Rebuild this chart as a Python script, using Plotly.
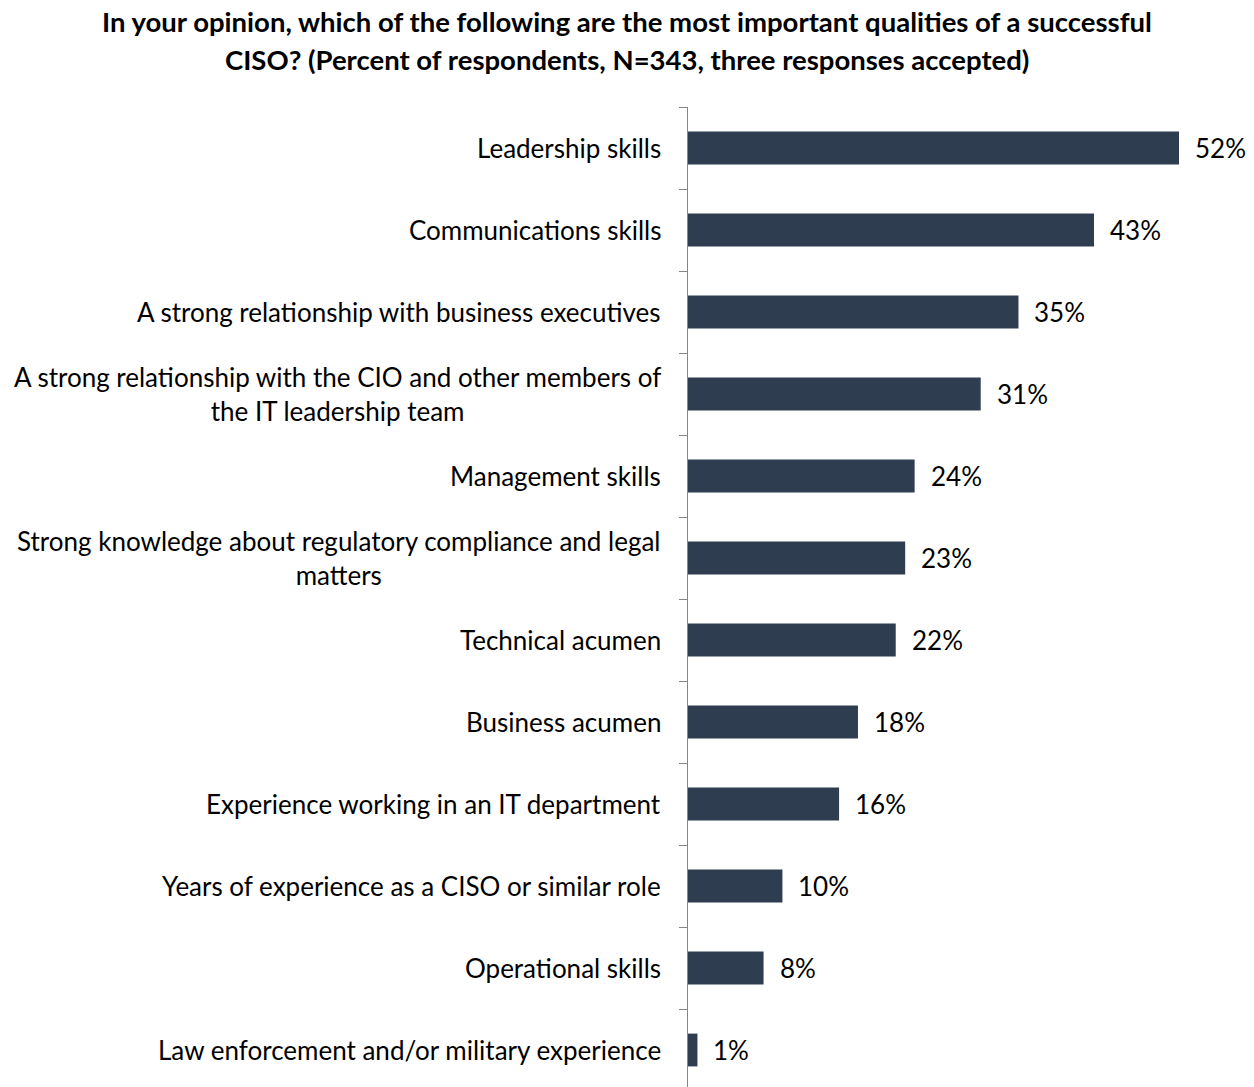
import plotly.graph_objects as go

# Survey results: most important qualities of a successful CISO (percent of respondents)
categories = [
    "Leadership skills",
    "Communications skills",
    "A strong relationship with business executives",
    "A strong relationship with the CIO and other members of<br>the IT leadership team",
    "Management skills",
    "Strong knowledge about regulatory compliance and legal<br>matters",
    "Technical acumen",
    "Business acumen",
    "Experience working in an IT department",
    "Years of experience as a CISO or similar role",
    "Operational skills",
    "Law enforcement and/or military experience",
]
values = [52, 43, 35, 31, 24, 23, 22, 18, 16, 10, 8, 1]
value_labels = [f"{v}%" for v in values]

title_lines = [
    "In your opinion, which of the following are the most important qualities of a successful",
    "CISO? (Percent of respondents, N=343, three responses accepted)",
]

FONT = "Lato, 'Open Sans', sans-serif"
BAR_COLOR = "#2E3E50"
AXIS_COLOR = "#868686"

W, H = 1254, 1087
TOP, LEFT = 107, 688
plot_h = H - TOP
plot_w = W - LEFT
ROW = 82

ids = list(range(len(categories)))

fig = go.Figure(
    go.Bar(
        x=values,
        y=ids,
        orientation="h",
        marker=dict(color=BAR_COLOR, line=dict(width=0)),
        width=0.4,
        hoverinfo="skip",
    )
)

annotations = []
# category labels, centred lines, right edge just left of the axis
for i, cat in zip(ids, categories):
    annotations.append(dict(
        x=0, xref="paper", y=i, yref="y",
        text=cat, showarrow=False,
        xanchor="right", yanchor="middle", align="center",
        xshift=-25,
        font=dict(family=FONT, size=26, color="#000000"),
    ))
# value labels beyond the bar ends
for i, v, lab in zip(ids, values, value_labels):
    annotations.append(dict(
        x=v, xref="x", y=i, yref="y",
        text=lab, showarrow=False,
        xanchor="left", yanchor="middle",
        xshift=14,
        font=dict(family=FONT, size=26, color="#000000"),
    ))
# two-line bold title, centred on the page
title_cx = (W / 2 - LEFT) / plot_w
for pix, line in zip([22, 59], title_lines):
    annotations.append(dict(
        x=title_cx, xref="paper", y=(H - pix) / plot_h, yref="paper",
        text=f"<b>{line}</b>", showarrow=False,
        xanchor="center", yanchor="middle",
        font=dict(family=FONT, size=27.5, color="#000000"),
    ))

fig.update_layout(
    width=W, height=H,
    margin=dict(l=LEFT, r=0, t=TOP, b=0, pad=0),
    paper_bgcolor="white", plot_bgcolor="white",
    showlegend=False,
    annotations=annotations,
    xaxis=dict(
        range=[0, plot_w / (491 / 52)], visible=False, fixedrange=True,
    ),
    yaxis=dict(
        type="category",
        categoryorder="array", categoryarray=ids,
        range=[len(categories) - 0.5 - (TOP + len(categories) * ROW - H) / ROW, -0.5],
        showticklabels=False,
        tickson="boundaries",
        ticks="outside", ticklen=8, tickwidth=1, tickcolor=AXIS_COLOR,
        showline=True, linecolor=AXIS_COLOR, linewidth=1,
        showgrid=False, zeroline=False, fixedrange=True,
    ),
)

fig.write_html("out.html")
